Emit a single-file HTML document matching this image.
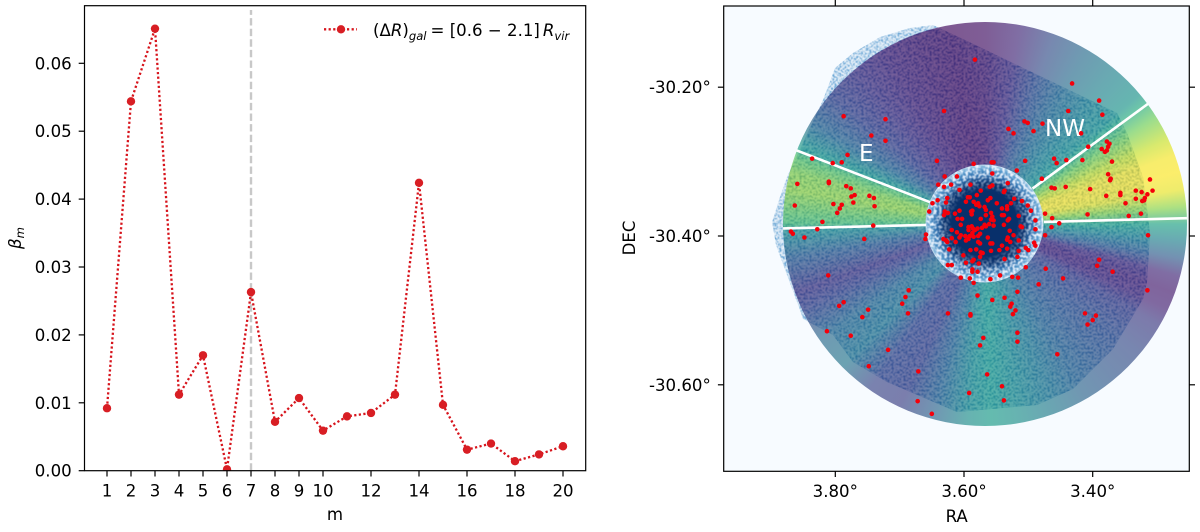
<!DOCTYPE html>
<html lang="en">
<head>
<meta charset="utf-8">
<title>Beta m spectrum and sky map</title>
<style>
html,body{margin:0;padding:0;background:#fff;width:1200px;height:532px;overflow:hidden}
svg{display:block;font-family:"DejaVu Sans","Liberation Sans",sans-serif}
text{fill:#000;font-size:16.6px}
</style>
</head>
<body>
<svg id="figure" xmlns="http://www.w3.org/2000/svg" width="1200" height="532" viewBox="0 0 1200 532">
  <defs>
    <clipPath id="left-clip"><rect x="84.5" y="5.7" width="501.2" height="465"/></clipPath>
    <clipPath id="map-clip"><rect x="723.7" y="6" width="465.6" height="465.3"/></clipPath>
    <clipPath id="disk-clip"><circle cx="985" cy="223.5" r="202"/></clipPath>
    <filter id="speckle-pale" x="0" y="0" width="100%" height="100%" color-interpolation-filters="sRGB">
      <feTurbulence type="fractalNoise" baseFrequency="0.6" numOctaves="2" seed="7" result="n"/>
      <feColorMatrix in="n" type="matrix" values="0 0 0 0 .3  0 0 0 0 .58  0 0 0 0 .8  5 0 0 0 -2.3" result="c"/>
      <feGaussianBlur in="c" stdDeviation="0.45" result="b"/>
      <feComposite in="b" operator="in" in2="SourceGraphic" result="s"/>
      <feMerge><feMergeNode in="SourceGraphic"/><feMergeNode in="s"/></feMerge>
    </filter>
    <filter id="speckle-dark" x="0" y="0" width="100%" height="100%" color-interpolation-filters="sRGB">
      <feTurbulence type="fractalNoise" baseFrequency="0.5" numOctaves="2" seed="11" result="n"/>
      <feColorMatrix in="n" type="matrix" values="0 0 0 0 .1  0 0 0 0 .38  0 0 0 0 .68  4 0 0 0 -1.75" result="c"/>
      <feGaussianBlur in="c" stdDeviation="0.5" result="b"/>
      <feComposite in="b" operator="in" in2="SourceGraphic" result="s"/>
      <feMerge><feMergeNode in="SourceGraphic"/><feMergeNode in="s"/></feMerge>
    </filter>
    <filter id="speckle-white" x="0" y="0" width="100%" height="100%" color-interpolation-filters="sRGB">
      <feTurbulence type="fractalNoise" baseFrequency="0.38" numOctaves="2" seed="3" result="n"/>
      <feColorMatrix in="n" type="matrix" values="0 0 0 0 .93  0 0 0 0 .96  0 0 0 0 1  6 0 0 0 -2.6" result="c"/>
      <feGaussianBlur in="c" stdDeviation="0.4" result="b"/>
      <feComposite in="b" operator="in" in2="SourceGraphic"/>
    </filter>
    <radialGradient id="core-gradient">
      <stop offset="0" stop-color="#08306b"/>
      <stop offset=".68" stop-color="#08306b"/>
      <stop offset=".82" stop-color="#2a6cac"/>
      <stop offset=".94" stop-color="#5c9fd0"/>
      <stop offset="1" stop-color="#a8cde6"/>
    </radialGradient>
    <radialGradient id="speckle-mask-gradient">
      <stop offset=".55" stop-color="#000"/>
      <stop offset=".75" stop-color="#aaa"/>
      <stop offset=".88" stop-color="#fff"/>
    </radialGradient>
    <mask id="speckle-mask" maskUnits="userSpaceOnUse" x="920" y="160" width="130" height="130">
      <circle cx="984.5" cy="223.5" r="59" fill="url(#speckle-mask-gradient)"/>
    </mask>
  </defs>

  <rect x="0" y="0" width="1200" height="532" fill="#fff"/>

  <!-- left panel -->
  <g id="left-panel">
    <line x1="251" y1="470.7" x2="251" y2="10" stroke="#c8c8c8" stroke-width="2.4" stroke-dasharray="7.4 3.2"/>
    <g id="series-layer" clip-path="url(#left-clip)"></g>
    <rect x="84.5" y="5.7" width="501.2" height="465" fill="none" stroke="#000" stroke-width="1.2"/>
    <g id="left-ticks"></g>
    <text x="335" y="520" text-anchor="middle">m</text>
    <text transform="translate(21 238) rotate(-90)" text-anchor="middle"><tspan font-style="italic">β</tspan><tspan font-style="italic" dy="3" style="font-size:11.6px">m</tspan></text>
    <g>
      <line x1="324" y1="29.3" x2="357" y2="29.3" stroke="#d7141c" stroke-width="2.3" stroke-dasharray="2.2 2.4"/>
      <circle cx="341" cy="29.3" r="4.2" fill="#d81e24"/>
      <text x="373" y="36">(Δ<tspan font-style="italic">R</tspan>)<tspan font-style="italic" dy="4" style="font-size:11.6px">gal</tspan><tspan dy="-4" dx="4">= [0.6 − 2.1]</tspan><tspan font-style="italic" dx="3">R</tspan><tspan font-style="italic" dy="4" style="font-size:11.6px">vir</tspan></text>
    </g>
  </g>

  <!-- right panel -->
  <g id="right-panel">
    <rect x="723.7" y="6" width="465.6" height="465.3" fill="#f7fbff"/>
    <g clip-path="url(#map-clip)">
      <polygon points="823,100 835,68 853,53 880,37 910,28 933,25 965,40 1117,113 1127,133 1143,177 1150,233 1147,282 1143,299 1113,349 1073,389 1037,405 957,412 887,382 853,362 833,335 803,319 797,302 787,275 776,245 772,222 780,197 787,177" fill="#f0f6fc" filter="url(#speckle-pale)"/>
      <g clip-path="url(#disk-clip)">
        <polygon points="823,100 835,68 853,53 880,37 910,28 933,25 965,40 1117,113 1127,133 1143,177 1150,233 1147,282 1143,299 1113,349 1073,389 1037,405 957,412 887,382 853,362 833,335 803,319 797,302 787,275 776,245 772,222 780,197 787,177" fill="#dbe9f6" filter="url(#speckle-dark)"/>
      </g>
      <foreignObject x="783" y="21.5" width="404" height="404">
        <div xmlns="http://www.w3.org/1999/xhtml" id="angular-map" style="width:404px;height:404px;border-radius:50%"></div>
      </foreignObject>
      <circle cx="984.5" cy="223.5" r="59" fill="url(#core-gradient)"/>
      <g mask="url(#speckle-mask)">
        <circle cx="984.5" cy="223.5" r="59" fill="#fff" filter="url(#speckle-white)"/>
      </g>
      <g id="sector-lines"></g>
      <text x="1045" y="136" style="font-size:23px;fill:#fff">NW</text>
      <text x="859" y="161" style="font-size:23px;fill:#fff">E</text>
      <g id="galaxy-layer"></g>
    </g>
    <rect x="723.7" y="6" width="465.6" height="465.3" fill="none" stroke="#000" stroke-width="1.2"/>
    <g id="map-ticks"></g>
    <text x="956.7" y="522" text-anchor="middle">RA</text>
    <text transform="translate(635 238) rotate(-90)" text-anchor="middle">DEC</text>
  </g>
</svg>

<script>
// ----- left chart data -----
const modes = [1,2,3,4,5,6,7,8,9,10,11,12,13,14,15,16,17,18,19,20];
const betaValues = [0.0092,0.0544,0.0651,0.0112,0.0170,0.0002,0.0263,0.0072,0.0107,0.0059,0.0080,0.0085,0.0112,0.0424,0.0097,0.0031,0.0040,0.0014,0.0024,0.0036];
const xTickValues = [1,2,3,4,5,6,7,8,9,10,12,14,16,18,20];
const yTickValues = [0,0.01,0.02,0.03,0.04,0.05,0.06];

// ----- sky map data -----
const raTickValues = [3.8,3.6,3.4];
const decTickValues = [-30.2,-30.4,-30.6];
const sectorEdgesDeg = [53.7,88.5,268.6,291.2];
const profileAngles = [0,10,20,30,40,50,53,58,65,70,75,80,85,90,95,100,105,110,115,120,130,140,150,160,170,178,185,195,205,215,225,235,245,250,260,268,270,280,285,290,292,300,310,320,330,340,350,360];
const profileValues = [0.05,0.12,0.25,0.36,0.45,0.52,0.62,0.78,0.92,0.99,1,0.97,0.82,0.58,0.45,0.3,0.12,0.08,0.1,0.18,0.24,0.28,0.33,0.42,0.5,0.55,0.5,0.33,0.2,0.22,0.4,0.35,0.2,0.15,0.3,0.5,0.7,0.84,0.82,0.72,0.56,0.34,0.2,0.13,0.08,0.05,0.03,0.05];

const galaxyRa = [
3.583,3.432,3.390,3.438,3.385,3.631,3.787,3.722,3.506,3.501,3.478,3.531,3.523,3.492,3.418,3.744,3.722,3.378,3.374,3.376,3.407,3.386,3.378,3.381,3.781,3.836,3.790,3.804,3.416,3.370,3.376,3.372,3.373,3.311,3.859,3.810,3.810,3.783,3.776,3.404,3.333,3.324,3.307,3.357,3.357,3.379,3.770,3.775,3.747,3.740,3.315,3.319,3.320,3.323,3.333,3.349,3.803,3.772,3.790,3.793,3.863,3.739,3.797,3.408,3.344,3.325,3.820,3.741,3.828,3.869,3.866,3.848,3.755,3.314,3.390,3.393,
3.369,3.811,3.315,3.787,3.696,3.794,3.526,3.528,3.749,3.520,3.687,3.625,3.590,3.590,3.524,3.412,3.395,3.400,3.408,3.758,3.813,3.776,3.517,3.570,3.517,3.575,3.718,3.455,3.748,3.671,3.564,3.541,3.592,3.672,3.538,3.650,
3.642,3.585,3.557,3.554,3.505,3.460,3.456,3.441,3.518,3.630,3.611,3.556,3.479,3.640,3.631,3.620,3.590,3.607,3.574,3.560,3.556,3.532,3.537,3.538,3.464,3.459,3.442,3.580,3.626,3.641,3.628,3.649,3.597,3.594,3.591,3.585,3.578,3.581,3.576,3.563,3.559,3.549,3.533,3.533,3.527,3.522,3.510,3.501,3.496,3.474,3.654,3.630,3.631,3.625,3.614,3.607,3.589,3.587,3.588,3.568,3.566,3.566,3.574,3.558,3.556,3.558,3.554,3.541,3.541,3.538,3.532,3.530,3.515,3.489,3.463,3.452,3.610,3.603,3.605,3.568,3.566,3.561,3.554,3.538,3.512,3.510,3.489,3.464,3.619,3.611,3.593,3.588,3.586,3.583,3.593,3.587,3.579,3.575,3.572,3.605,3.607,3.598,3.591,3.593,3.597,3.585,3.578,3.529,3.523,3.563,3.532,3.533,3.515,3.528,3.474,3.659,3.660,3.632,3.628,3.619,3.626,3.613,3.578,3.575,3.559,3.556,3.541,3.533,3.545,3.491,3.489,3.504,3.500,3.623,3.590,3.581,3.574,3.571,3.558,3.515,3.601,3.575,3.585,3.587,3.517,3.537,3.597,3.577,3.625,3.619,3.504,3.473,3.587,3.587,3.579,3.605,3.591,3.585,3.559,3.544,3.525,3.516,3.484,3.446,3.579,3.686,3.691,3.517,3.537,3.556
];
const galaxyDec = [
-30.163,-30.195,-30.218,-30.232,-30.237,-30.232,-30.239,-30.243,-30.246,-30.248,-30.249,-30.256,-30.262,-30.259,-30.262,-30.265,-30.272,-30.273,-30.276,-30.280,-30.280,-30.283,-30.285,-30.287,-30.291,-30.296,-30.301,-30.302,-30.298,-30.300,-30.317,-30.323,-30.325,-30.324,-30.330,-30.327,-30.329,-30.333,-30.336,-30.337,-30.339,-30.341,-30.339,-30.342,-30.345,-30.346,-30.345,-30.347,-30.346,-30.349,-30.344,-30.349,-30.352,-30.353,-30.350,-30.356,-30.357,-30.355,-30.358,-30.363,-30.359,-30.360,-30.369,-30.371,-30.373,-30.370,-30.381,-30.386,-30.391,-30.394,-30.397,-30.402,-30.404,-30.399,-30.432,-30.440,
-30.448,-30.453,-30.473,-30.489,-30.491,-30.494,-30.491,-30.495,-30.499,-30.500,-30.504,-30.504,-30.505,-30.507,-30.505,-30.504,-30.507,-30.513,-30.519,-30.509,-30.528,-30.534,-30.530,-30.537,-30.542,-30.547,-30.553,-30.559,-30.575,-30.582,-30.586,-30.602,-30.611,-30.622,-30.621,-30.639,
-30.299,-30.303,-30.301,-30.301,-30.299,-30.296,-30.302,-30.298,-30.312,-30.320,-30.320,-30.316,-30.323,-30.331,-30.334,-30.331,-30.331,-30.338,-30.339,-30.334,-30.332,-30.329,-30.339,-30.341,-30.335,-30.336,-30.334,-30.345,-30.349,-30.352,-30.355,-30.356,-30.354,-30.348,-30.348,-30.354,-30.356,-30.358,-30.360,-30.352,-30.349,-30.356,-30.360,-30.364,-30.356,-30.350,-30.353,-30.359,-30.366,-30.370,-30.367,-30.367,-30.372,-30.369,-30.370,-30.366,-30.367,-30.366,-30.371,-30.361,-30.365,-30.372,-30.377,-30.369,-30.374,-30.378,-30.379,-30.363,-30.372,-30.372,-30.379,-30.377,-30.373,-30.379,-30.376,-30.383,-30.377,-30.377,-30.385,-30.385,-30.387,-30.384,-30.386,-30.385,-30.387,-30.388,-30.391,-30.388,-30.392,-30.395,-30.388,-30.387,-30.390,-30.392,-30.392,-30.396,-30.390,-30.397,-30.389,-30.399,-30.402,-30.400,-30.400,-30.404,-30.406,-30.401,-30.400,-30.393,-30.399,-30.402,-30.402,-30.405,-30.406,-30.408,-30.399,-30.398,-30.404,-30.404,-30.406,-30.403,-30.408,-30.408,-30.408,-30.410,-30.410,-30.410,-30.413,-30.417,-30.419,-30.409,-30.413,-30.416,-30.419,-30.418,-30.419,-30.418,-30.422,-30.423,-30.420,-30.420,-30.426,-30.428,-30.432,-30.434,-30.428,-30.431,-30.436,-30.437,-30.439,-30.439,-30.442,-30.444,-30.445,-30.448,-30.448,-30.456,-30.457,-30.463,-30.458,-30.453,-30.455,-30.456,-30.465,-30.457,-30.480,-30.473,-30.482,-30.475,-30.483,-30.486
];

// ----- axis functions -----
const SVG_NS = 'http://www.w3.org/2000/svg';
function xScale(m){ return 107 + (m - 1) * 24; }
function yScale(b){ return 470.7 - b * 6790; }
function raScale(ra){ return 964 - (ra - 3.6) * 643.5; }
function decScale(dec){ return 236 - (dec + 30.4) * 744; }

function make(tag, parent){
  const el = document.createElementNS(SVG_NS, tag);
  parent.appendChild(el);
  return el;
}
function setAll(el, attrs){
  for (const k in attrs) el.setAttribute(k, attrs[k]);
}

// ----- series -----
const seriesLayer = document.getElementById('series-layer');
const seriesLine = make('polyline', seriesLayer);


setAll(seriesLine, {
  points: modes.map((m, i) => xScale(m) + ',' + yScale(betaValues[i])).join(' '),
  fill: 'none', stroke: '#d7141c', 'stroke-width': 2.3, 'stroke-dasharray': '2.2 2.4'
});
modes.forEach((m, i) => {
  const dot = make('circle', seriesLayer);
  
  
  setAll(dot, { cx: xScale(m), cy: yScale(betaValues[i]), r: 4.2, fill: '#d81e24' });
});

// ----- ticks -----
function tick(parent, x1, y1, x2, y2){
  const t = make('line', parent);
  
  
  setAll(t, { x1, y1, x2, y2, stroke: '#000', 'stroke-width': 1.2 });
}
function tickLabel(parent, x, y, anchor, str){
  const t = make('text', parent);
  
  
  setAll(t, { x, y, 'text-anchor': anchor });
  t.textContent = str;
}
const leftTicks = document.getElementById('left-ticks');
xTickValues.forEach(v => {
  tick(leftTicks, xScale(v), 470.7, xScale(v), 476.5);
  tickLabel(leftTicks, xScale(v), 496.7, 'middle', String(v));
});
yTickValues.forEach(v => {
  tick(leftTicks, 84.5, yScale(v), 78.7, yScale(v));
  tickLabel(leftTicks, 71.7, yScale(v) + 6, 'end', v.toFixed(2));
});
const mapTicks = document.getElementById('map-ticks');
raTickValues.forEach(v => {
  tick(mapTicks, raScale(v), 471.3, raScale(v), 477);
  tick(mapTicks, raScale(v), 6, raScale(v), 0);
  tickLabel(mapTicks, raScale(v), 497, 'middle', v.toFixed(2) + '°');
});
decTickValues.forEach(v => {
  tick(mapTicks, 723.7, decScale(v), 717.9, decScale(v));
  tick(mapTicks, 1189.3, decScale(v), 1195, decScale(v));
  tickLabel(mapTicks, 710.8, decScale(v) + 6, 'end', v.toFixed(2) + '°');
});

// ----- angular overdensity layer -----
const viridisStops = [[68,1,84],[72,40,120],[62,74,137],[49,104,142],[38,130,142],[31,158,137],[53,183,121],[110,206,88],[181,222,43],[253,231,37]];
function viridis(v){
  const p = Math.max(0, Math.min(1, v)) * (viridisStops.length - 1);
  const i = Math.min(Math.floor(p), viridisStops.length - 2);
  const f = p - i;
  const a = viridisStops[i], b = viridisStops[i + 1];
  return 'rgba(' + a.map((c, k) => Math.round(c + (b[k] - c) * f)).join(',') + ',0.68)';
}
document.getElementById('angular-map').style.background =
  'conic-gradient(' + profileAngles.map((a, i) => viridis(profileValues[i]) + ' ' + a + 'deg').join(',') + ')';

// ----- sector boundaries -----
const sectorLines = document.getElementById('sector-lines');
sectorEdgesDeg.forEach(a => {
  const r = a * Math.PI / 180;
  const l = make('line', sectorLines);
  
  
  setAll(l, {
    x1: 985 + 59 * Math.sin(r), y1: 223.5 - 59 * Math.cos(r),
    x2: 985 + 202 * Math.sin(r), y2: 223.5 - 202 * Math.cos(r),
    stroke: '#fff', 'stroke-width': 2.6
  });
});

// ----- galaxies -----
const galaxyLayer = document.getElementById('galaxy-layer');
galaxyRa.forEach((ra, i) => {
  const g = make('circle', galaxyLayer);
  
  
  setAll(g, { cx: raScale(ra), cy: decScale(galaxyDec[i]), r: 2.3, fill: '#f5000a' });
});
</script>
</body>
</html>
